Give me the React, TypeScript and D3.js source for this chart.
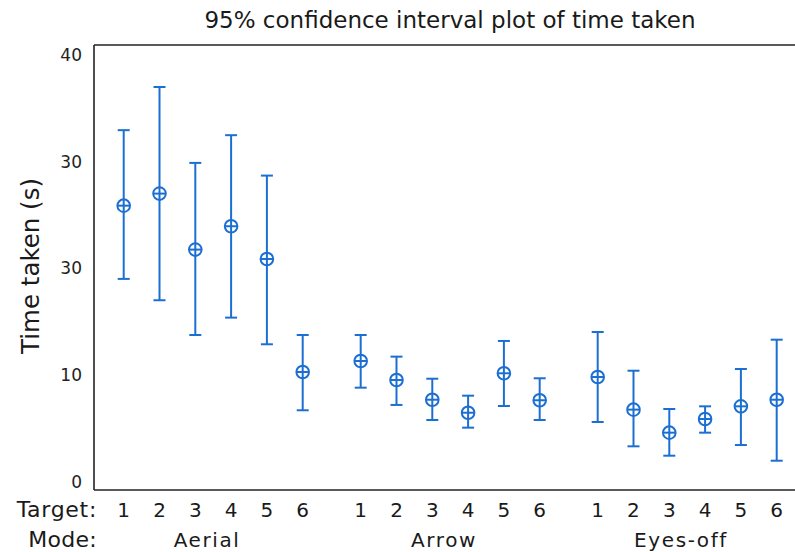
import React from 'react';
import * as d3 from 'd3';

// ── data ─────────────────────────────────────────────────────────
const modes = ['Aerial', 'Arrow', 'Eyes-off'];
const targets = ['1', '2', '3', '4', '5', '6'];

// mean / lower / upper of the 95% CI, per mode, targets 1..6
const means = [
  [25.87, 27.0, 21.75, 23.94, 20.87, 10.27],
  [11.3, 9.52, 7.67, 6.45, 10.15, 7.62],
  [9.8, 6.74, 4.58, 5.86, 7.05, 7.67],
];
const lowers = [
  [19.0, 17.0, 13.74, 15.37, 12.87, 6.68],
  [8.8, 7.18, 5.77, 5.05, 7.08, 5.77],
  [5.58, 3.3, 2.42, 4.58, 3.42, 1.95],
];
const uppers = [
  [32.95, 37.0, 29.88, 32.48, 28.69, 13.74],
  [13.74, 11.71, 9.64, 8.05, 13.18, 9.68],
  [14.02, 10.39, 6.8, 7.05, 10.55, 13.3],
];

const yTickValues = [0, 10, 20, 30, 40];
const yTickLabels = ['0', '10', '30', '30', '40']; // as printed on the original

const W = 795;
const H = 552;
const FONT = '"DejaVu Sans", Verdana, sans-serif';
const BLUE = '#1c6fd2';
const GROUP_STEP = 6.62; // slots between the first targets of two modes

export default function App() {
  const left = 94, top = 45, bottom = 490;

  const x = d3.scaleLinear().domain([0, 1]).range([123.7, 123.7 + 35.8]);
  const y = d3.scaleLinear().domain([0, 40]).range([481.5, 55]);

  const points = modes.flatMap((m, g) =>
    targets.map((t, i) => ({
      mode: m, target: t,
      pos: g * GROUP_STEP + i,
      mean: means[g][i], lo: lowers[g][i], hi: uppers[g][i],
    }))
  );

  const cap = 6, r = 6.3;

  return (
    <div style={{ position: 'absolute', left: 0, top: 0 }}>
      <svg width={W} height={H} style={{ display: 'block', background: '#fff' }}>
        {/* title */}
        <text x={450} y={28} textAnchor="middle" fontFamily={FONT} fontSize={23} fill="#1a1a1a">
          95% confidence interval plot of time taken
        </text>

        {/* frame (right side runs off the picture) */}
        <g stroke="#222" strokeWidth={1.6} fill="none">
          <line x1={left} x2={left} y1={top} y2={bottom} />
          <line x1={left} x2={W} y1={top} y2={top} />
          <line x1={left} x2={W} y1={bottom} y2={bottom} />
        </g>

        {/* y tick labels */}
        {yTickValues.map((v, i) => (
          <text key={v} x={82} y={y(v)} dy="0.36em" textAnchor="end"
            fontFamily={FONT} fontSize={17} fill="#222">
            {yTickLabels[i]}
          </text>
        ))}

        {/* y title */}
        <text transform={`translate(39,266) rotate(-90)`} textAnchor="middle"
          fontFamily={FONT} fontSize={24.5} fill="#1a1a1a">
          Time taken (s)
        </text>

        {/* error bars */}
        <g stroke={BLUE} strokeWidth={2} fill="none">
          {points.map(p => {
            const cx = x(p.pos);
            const cy = y(p.mean);
            return (
              <g key={p.mode + p.target}>
                <line x1={cx} x2={cx} y1={y(p.hi)} y2={y(p.lo)} />
                <line x1={cx - cap} x2={cx + cap} y1={y(p.hi)} y2={y(p.hi)} />
                <line x1={cx - cap} x2={cx + cap} y1={y(p.lo)} y2={y(p.lo)} />
                <circle cx={cx} cy={cy} r={r} fill="#fff" />
                <line x1={cx - r} x2={cx + r} y1={cy} y2={cy} />
                <line x1={cx} x2={cx} y1={cy - r} y2={cy + r} />
              </g>
            );
          })}
        </g>

        {/* category rows */}
        <text x={97} y={517} textAnchor="end" fontFamily={FONT} fontSize={22} letterSpacing={0.7} fill="#1a1a1a">Target:</text>
        <text x={97} y={547} textAnchor="end" fontFamily={FONT} fontSize={22} letterSpacing={0.3} fill="#1a1a1a">Mode:</text>
        {points.map(p => (
          <text key={'t' + p.mode + p.target} x={x(p.pos)} y={517} textAnchor="middle"
            fontFamily={FONT} fontSize={20} fill="#1a1a1a">
            {p.target}
          </text>
        ))}
        {modes.map((m, g) => (
          <text key={m} x={x(g * GROUP_STEP + 2.3) + 1} y={547} textAnchor="middle"
            fontFamily={FONT} fontSize={20} letterSpacing={1.6} fill="#1a1a1a">
            {m}
          </text>
        ))}
      </svg>
    </div>
  );
}
